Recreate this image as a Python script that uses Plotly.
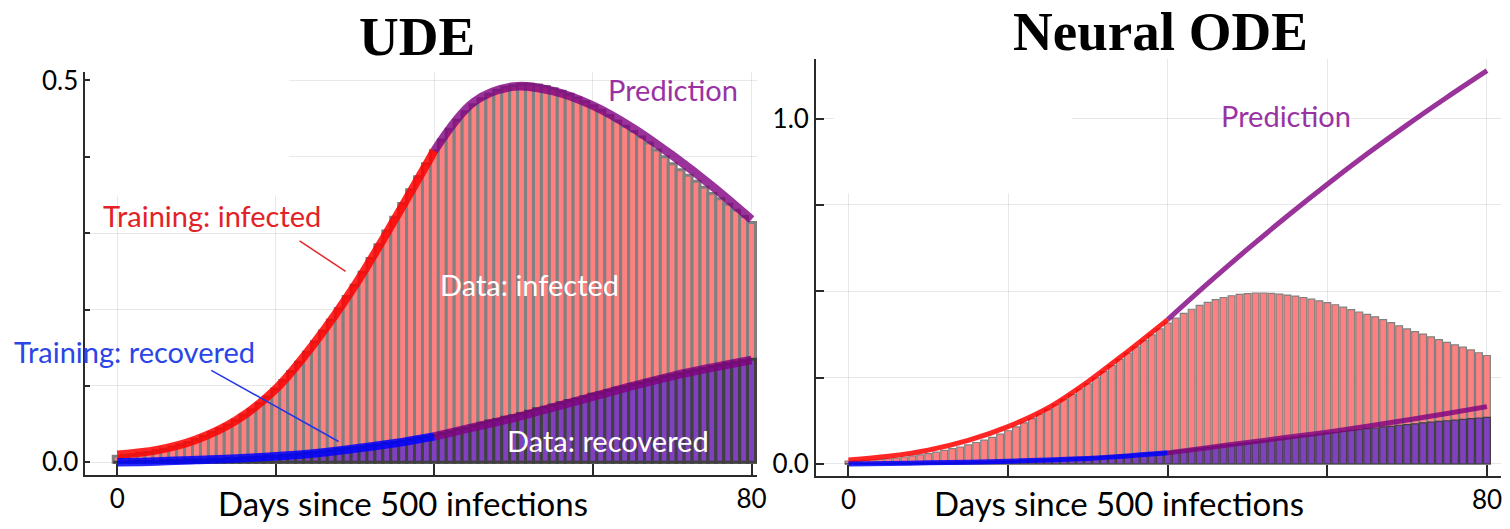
import plotly.graph_objects as go

# ---- data ---------------------------------------------------------------
days = list(range(81))

infected = [
    0.008, 0.009, 0.010, 0.012, 0.013, 0.015, 0.017, 0.020, 0.023, 0.026,
    0.030, 0.034, 0.039, 0.044, 0.049, 0.055, 0.062, 0.069, 0.077, 0.086,
    0.096, 0.107, 0.119, 0.131, 0.144, 0.158, 0.172, 0.186, 0.201, 0.217,
    0.232, 0.249, 0.267, 0.285, 0.303, 0.321, 0.339, 0.357, 0.374, 0.391,
    0.408, 0.422, 0.436, 0.448, 0.459, 0.468, 0.476, 0.482, 0.487, 0.491,
    0.493, 0.495, 0.495, 0.494, 0.492, 0.489, 0.486, 0.482, 0.477, 0.472,
    0.467, 0.461, 0.454, 0.447, 0.440, 0.433, 0.426, 0.418, 0.409, 0.400,
    0.391, 0.383, 0.376, 0.368, 0.360, 0.352, 0.345, 0.338, 0.330, 0.322,
    0.314,
]

recovered = [
    0.000, 0.000, 0.001, 0.001, 0.001, 0.001, 0.002, 0.002, 0.002, 0.003,
    0.003, 0.003, 0.004, 0.004, 0.005, 0.005, 0.006, 0.006, 0.007, 0.008,
    0.008, 0.009, 0.010, 0.011, 0.012, 0.013, 0.014, 0.015, 0.017, 0.018,
    0.019, 0.020, 0.022, 0.023, 0.025, 0.026, 0.028, 0.030, 0.032, 0.033,
    0.035, 0.038, 0.040, 0.043, 0.045, 0.048, 0.051, 0.054, 0.056, 0.059,
    0.061, 0.064, 0.067, 0.070, 0.072, 0.075, 0.078, 0.081, 0.083, 0.086,
    0.089, 0.091, 0.094, 0.097, 0.099, 0.102, 0.104, 0.107, 0.109, 0.112,
    0.114, 0.116, 0.119, 0.121, 0.123, 0.125, 0.127, 0.129, 0.131, 0.133,
    0.135,
]

train_days = [0, 5, 10, 15, 20, 25, 30, 35, 40]
pred_days = [40, 45, 50, 55, 60, 65, 70, 75, 80]

# UDE model output
ude_inf_train = [0.010, 0.016, 0.030, 0.055, 0.096, 0.158, 0.232, 0.318, 0.408]
ude_inf_pred = [0.408, 0.472, 0.492, 0.486, 0.467, 0.438, 0.402, 0.362, 0.318]
ude_rec_train = [0.000, 0.001, 0.003, 0.005, 0.008, 0.012, 0.018, 0.025, 0.034]
ude_rec_pred = [0.034, 0.046, 0.058, 0.072, 0.086, 0.100, 0.113, 0.124, 0.134]

# Neural ODE model output
node_inf_train = [0.011, 0.022, 0.040, 0.068, 0.108, 0.162, 0.238, 0.326, 0.418]
node_inf_pred = [0.418, 0.522, 0.622, 0.718, 0.810, 0.898, 0.982, 1.062, 1.139]
node_rec_train = [0.000, 0.001, 0.003, 0.005, 0.008, 0.011, 0.016, 0.023, 0.032]
node_rec_pred = [0.032, 0.047, 0.062, 0.077, 0.092, 0.109, 0.127, 0.146, 0.166]

x_tickvals = [0, 20, 40, 60, 80]
x_ticktext = ["0", "", "", "", "80"]
ude_tickvals = [0.0, 0.1, 0.2, 0.3, 0.4, 0.5]
ude_ticktext = ["0.0", "", "", "", "", "0.5"]
node_tickvals = [0.0, 0.25, 0.5, 0.75, 1.0]
node_ticktext = ["0.0", "", "", "", "1.0"]

# ---- styles -------------------------------------------------------------
INF_FILL = "rgb(255,128,128)"
INF_EDGE = "rgb(128,128,128)"
REC_FILL = "rgb(128,64,192)"
REC_EDGE = "rgb(64,64,64)"
RED = "rgba(255,0,0,0.85)"
BLUE = "rgba(0,0,255,0.85)"
PURPLE = "rgba(128,0,128,0.8)"
TXT_RED = "#e32228"
TXT_BLUE = "#2b45e6"
TXT_PURPLE = "#9933a3"
FONT = "Lato"
AXIS_COL = "#2a2a2a"
GRID_COL = "rgba(0,0,0,0.09)"

fig = go.Figure()


def add_panel(xa, ya, bar_w, edge_w, line_w, inf_tr, inf_pr, rec_tr, rec_pr):
    fig.add_trace(go.Bar(x=days, y=infected, width=bar_w, xaxis=xa, yaxis=ya,
                         marker=dict(color=INF_FILL, line=dict(color=INF_EDGE, width=edge_w)),
                         showlegend=False, hoverinfo="skip"))
    fig.add_trace(go.Bar(x=days, y=recovered, width=bar_w, xaxis=xa, yaxis=ya,
                         marker=dict(color=REC_FILL, line=dict(color=REC_EDGE, width=edge_w)),
                         showlegend=False, hoverinfo="skip"))
    for xs, ys, col in [(train_days, inf_tr, RED), (pred_days, inf_pr, PURPLE),
                        (train_days, rec_tr, BLUE), (pred_days, rec_pr, PURPLE)]:
        fig.add_trace(go.Scatter(x=xs, y=ys, mode="lines", xaxis=xa, yaxis=ya,
                                 line=dict(color=col, width=line_w, shape="spline", smoothing=1.0),
                                 showlegend=False, hoverinfo="skip"))


add_panel("x", "y", 1.0, 3, 8.5, ude_inf_train, ude_inf_pred, ude_rec_train, ude_rec_pred)
add_panel("x2", "y2", 0.85, 1.2, 5, node_inf_train, node_inf_pred, node_rec_train, node_rec_pred)

W, H = 1510, 529


def xdom(a, b):
    return [a / W, b / W]


def ydom(top, bottom):
    return [(H - bottom) / H, (H - top) / H]


common_x = dict(tickvals=x_tickvals, ticktext=x_ticktext, ticks="inside", ticklen=11,
                tickcolor=AXIS_COL, tickwidth=1.5, showline=True, linecolor=AXIS_COL,
                linewidth=2, showgrid=True, gridcolor=GRID_COL, gridwidth=1,
                zeroline=False, tickfont=dict(family=FONT, size=26, color="black"))
common_y = dict(ticks="inside", tickcolor=AXIS_COL, tickwidth=1.5, showline=True,
                linecolor=AXIS_COL, linewidth=2, showgrid=True, gridcolor=GRID_COL,
                gridwidth=1, zeroline=False, tickfont=dict(family=FONT, size=26, color="black"))

fig.update_layout(
    width=W, height=H, margin=dict(l=0, r=0, t=0, b=0),
    paper_bgcolor="white", plot_bgcolor="white", barmode="overlay",
    xaxis=dict(domain=xdom(86, 762), range=[-4.0, 80.75], anchor="y", **common_x),
    yaxis=dict(domain=ydom(65, 477), range=[-0.0167, 0.5115], anchor="x",
               tickvals=ude_tickvals, ticktext=ude_ticktext, ticklen=5, **common_y),
    xaxis2=dict(domain=xdom(821, 1510), range=[-4.05, 81.76], anchor="y2", **common_x),
    yaxis2=dict(domain=ydom(52, 478), range=[-0.0352, 1.173], anchor="x2",
                tickvals=node_tickvals, ticktext=node_ticktext, ticklen=8, **common_y),
)

# blank backing panels behind the upper-left area of each panel
fig.add_shape(type="rect", xref="x", yref="y", x0=-3.89, x1=21.7, y0=0.349, y1=0.5115,
              fillcolor="white", line_width=0, layer="between")
fig.add_shape(type="rect", xref="x2", yref="y2", x0=-1.81, x1=27.96, y0=0.784, y1=1.173,
              fillcolor="white", line_width=0, layer="between")

# pointer strokes from the labels to the training curves
fig.add_shape(type="line", xref="x", yref="y", x0=23.0, y0=0.290, x1=28.8, y1=0.250,
              line=dict(color="#e3262a", width=1.5))
fig.add_shape(type="line", xref="x", yref="y", x0=11.87, y0=0.1205, x1=27.92, y1=0.0273,
              line=dict(color="#2236e6", width=1.5))

ann_font = 29
notes = [
    ("x", "y", 70.1, 0.488, "Prediction", TXT_PURPLE),
    ("x", "y", 12.0, 0.323, "Training: infected", TXT_RED),
    ("x", "y", 52.0, 0.233, "Data: infected", "white"),
    ("x", "y", 2.13, 0.1455, "Training: recovered", TXT_BLUE),
    ("x", "y", 61.9, 0.0286, "Data: recovered", "white"),
    ("x2", "y2", 54.86, 1.0085, "Prediction", TXT_PURPLE),
]
for xr, yr, xv, yv, txt, col in notes:
    fig.add_annotation(xref=xr, yref=yr, x=xv, y=yv, text=txt, showarrow=False,
                       xanchor="center", yanchor="middle",
                       font=dict(family=FONT, size=ann_font, color=col))

# panel titles
for xp, yp, txt in [(420, 29.5, "UDE"), (1167, 23.6, "Neural ODE")]:
    fig.add_annotation(xref="paper", yref="paper", x=xp / W, y=(H - yp) / H, text=txt,
                       showarrow=False, xanchor="center", yanchor="middle",
                       font=dict(family="Liberation Serif", size=55, color="black", weight="bold"))

# x-axis titles, kept just inside the bottom edge
for xp in (405, 1126):
    fig.add_annotation(xref="paper", yref="paper", x=xp / W, y=0.0, yshift=1,
                       text="Days since 500 infections", showarrow=False,
                       xanchor="center", yanchor="bottom",
                       font=dict(family=FONT, size=33, color="black"))

fig.write_html("out.html")
